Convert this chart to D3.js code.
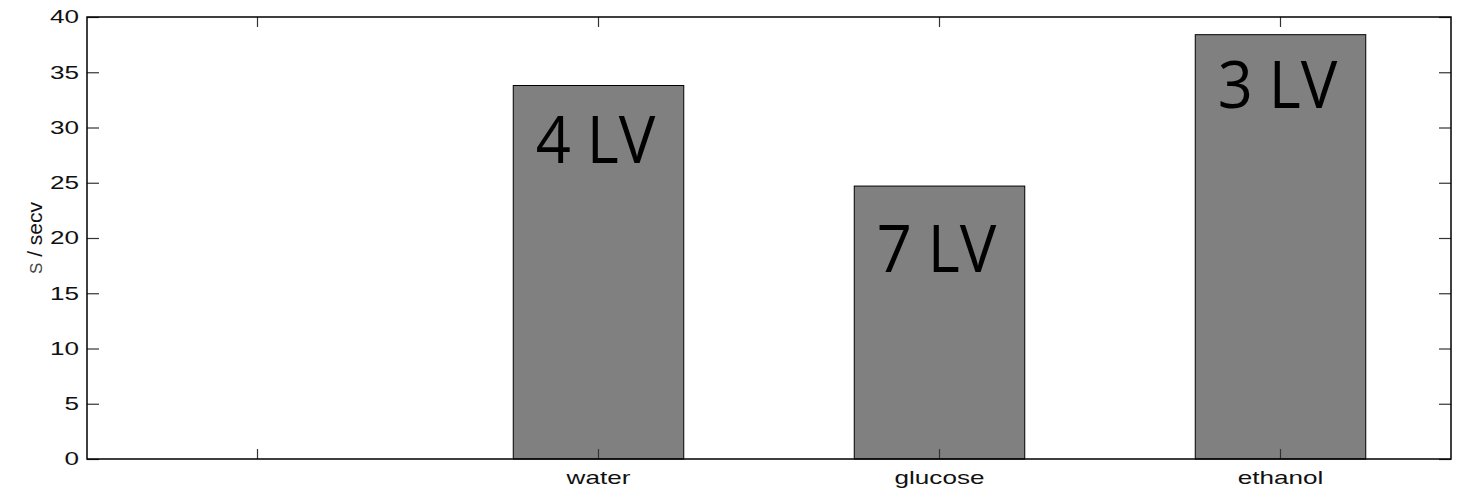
<!DOCTYPE html>
<html>
<head>
<meta charset="utf-8">
<script src="https://cdn.jsdelivr.net/npm/d3@7/dist/d3.min.js"></script>
<style>
  html, body { margin: 0; padding: 0; background: #fff; }
  svg { display: block; }
</style>
</head>
<body>
<svg id="chart" width="1458" height="491"></svg>
<script>
// Solvents and their scores; the first slot is left empty on purpose
const categories = ["", "water", "glucose", "ethanol"];
const values = [0, 33.8, 24.7, 38.4];
// Latent-variable annotations and the y value each one sits at (baseline)
const barLabels = ["", "4 LV", "7 LV", "3 LV"];
const labelAt = [0, 26.75, 16.95, 31.75];
const yTicks = [0, 5, 10, 15, 20, 25, 30, 35, 40];

const W = 1458, H = 491;
const margin = { top: 17, right: 7, bottom: 32, left: 87 };
const iw = W - margin.left - margin.right;
const ih = H - margin.top - margin.bottom;
const wide = 1.45; // horizontal stretch of the axis lettering

const svg = d3.select("#chart");
const g = svg.append("g").attr("transform", `translate(${margin.left},${margin.top})`);

const x = d3.scaleBand().domain(d3.range(categories.length)).range([0, iw]).padding(0);
const y = d3.scaleLinear().domain([0, 40]).range([ih, 0]);
const barW = x.bandwidth() * 0.5;

// Bars
g.selectAll("rect.bar")
  .data(values)
  .join("rect")
  .attr("class", "bar")
  .attr("x", (d, i) => x(i) + (x.bandwidth() - barW) / 2)
  .attr("y", d => y(d))
  .attr("width", barW)
  .attr("height", d => y(0) - y(d))
  .attr("fill", "#808080")
  .attr("stroke", "#000")
  .attr("stroke-width", 1);

// Axes: ticks point inward on all four sides
const tickFont = "Liberation Sans, Arial, sans-serif";

const yLeft = g.append("g").call(d3.axisLeft(y).tickValues(yTicks).tickSizeInner(-12).tickSizeOuter(0).tickPadding(8));
const yRight = g.append("g").attr("transform", `translate(${iw},0)`)
  .call(d3.axisRight(y).tickValues(yTicks).tickSizeInner(-12).tickSizeOuter(0).tickFormat(""));
const xBottom = g.append("g").attr("transform", `translate(0,${ih})`)
  .call(d3.axisBottom(x).tickFormat(i => categories[i]).tickSizeInner(-10).tickSizeOuter(0).tickPadding(12));
const xTop = g.append("g")
  .call(d3.axisTop(x).tickSizeInner(-10).tickSizeOuter(0).tickFormat(""));

[yLeft, yRight, xBottom, xTop].forEach(a => {
  a.select(".domain").remove();
  a.selectAll(".tick line").attr("stroke", "#333").attr("stroke-width", 1.2);
  a.selectAll(".tick text")
    .attr("font-family", tickFont).attr("font-size", 18).attr("fill", "#111");
});

// Widen the tick lettering around its own anchor point
yLeft.selectAll(".tick text").each(function () {
  const t = d3.select(this);
  const tx = +t.attr("x");
  t.attr("transform", `translate(${tx},0) scale(${wide},1) translate(${-tx},0)`);
});
xBottom.selectAll(".tick text").attr("transform", `scale(${wide},1)`);

// Frame around the plot area
g.append("rect")
  .attr("x", 0).attr("y", 0).attr("width", iw).attr("height", ih)
  .attr("fill", "none").attr("stroke", "#000").attr("stroke-width", 1.5);

// Annotations inside the bars
g.selectAll("text.lv")
  .data(barLabels)
  .join("text")
  .attr("class", "lv")
  .attr("transform", (d, i) => `translate(${x(i) + x.bandwidth() / 2 - 3},${y(labelAt[i])}) scale(0.93,1)`)
  .attr("text-anchor", "middle")
  .attr("font-family", "Open Sans, sans-serif")
  .attr("font-size", 66)
  .attr("fill", "#000")
  .text(d => d);

// Y axis title
const yt = svg.append("text")
  .attr("transform", `translate(42,${margin.top + ih / 2}) rotate(-90)`)
  .attr("text-anchor", "middle")
  .attr("font-family", tickFont)
  .attr("font-size", 21)
  .attr("fill", "#111");
yt.append("tspan").attr("font-size", 17).attr("fill", "#444").text("S");
yt.append("tspan").text(" / secv");
</script>
</body>
</html>
